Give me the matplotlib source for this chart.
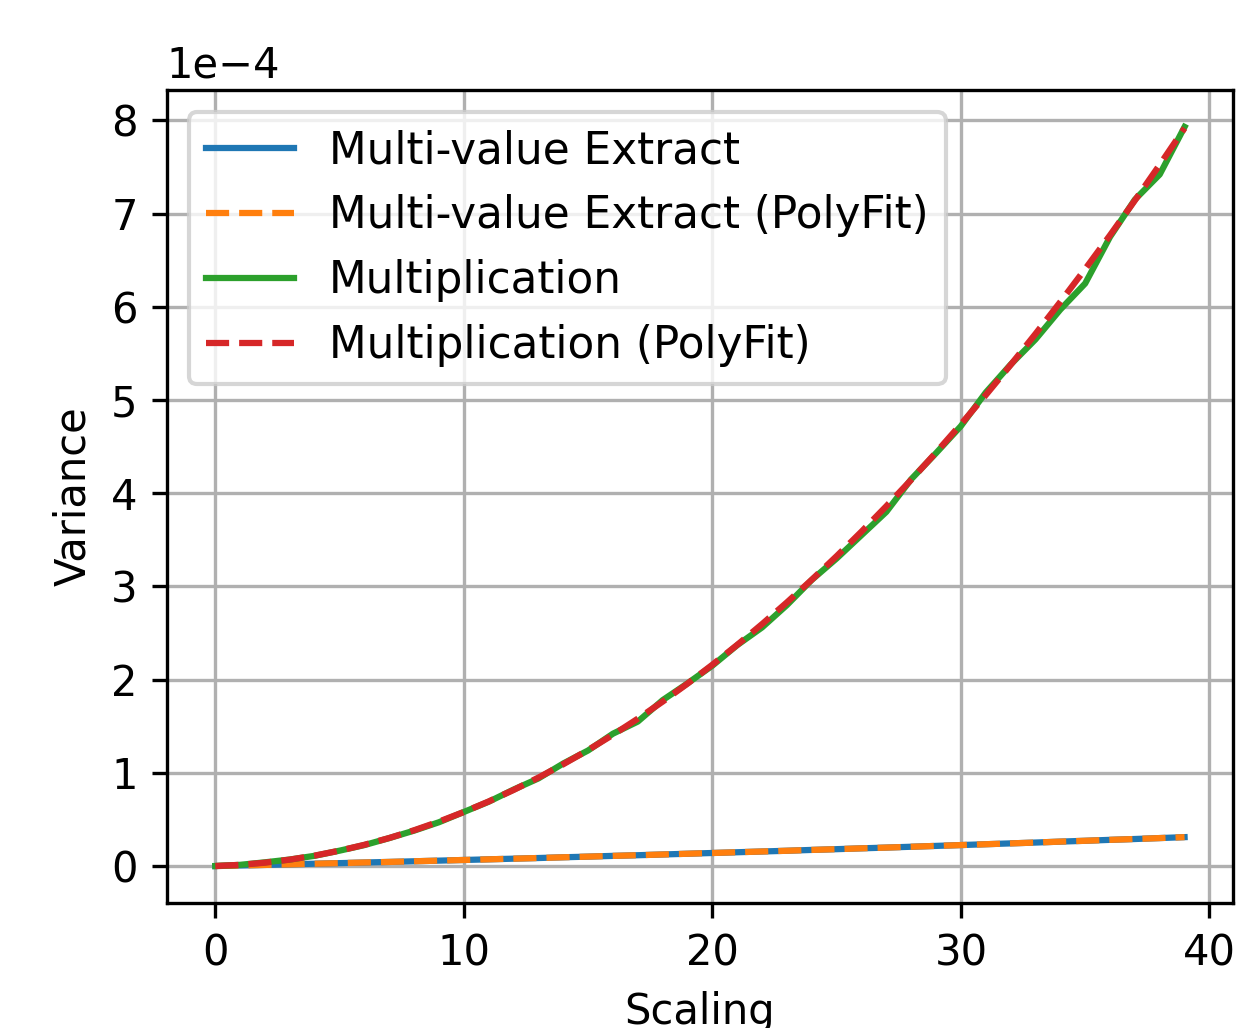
import numpy as np
import matplotlib
matplotlib.use("Agg")
import matplotlib.pyplot as plt

scaling = list(range(40))

# values in units of 1e-4
extract = [0.0, 0.006, 0.012, 0.018, 0.025, 0.031, 0.038, 0.044, 0.051, 0.058,
           0.065, 0.072, 0.079, 0.086, 0.094, 0.101, 0.109, 0.116, 0.124, 0.132,
           0.140, 0.148, 0.156, 0.164, 0.173, 0.181, 0.190, 0.198, 0.207, 0.216,
           0.225, 0.234, 0.243, 0.252, 0.262, 0.271, 0.281, 0.290, 0.300, 0.310]
extract_fit = [0.0, 0.006, 0.012, 0.018, 0.025, 0.031, 0.038, 0.044, 0.051, 0.058,
               0.065, 0.072, 0.079, 0.086, 0.094, 0.101, 0.109, 0.116, 0.124, 0.132,
               0.140, 0.148, 0.156, 0.164, 0.173, 0.181, 0.190, 0.198, 0.207, 0.216,
               0.225, 0.234, 0.243, 0.252, 0.262, 0.271, 0.281, 0.290, 0.300, 0.310]
mult = [0.0, 0.013, 0.04, 0.07, 0.11, 0.165, 0.225, 0.30, 0.38, 0.47,
        0.58, 0.69, 0.82, 0.94, 1.10, 1.24, 1.42, 1.55, 1.78, 1.96,
        2.15, 2.37, 2.56, 2.80, 3.07, 3.30, 3.55, 3.80, 4.15, 4.43,
        4.72, 5.08, 5.38, 5.65, 5.97, 6.25, 6.75, 7.15, 7.42, 7.93]
mult_fit = [0.0, 0.013, 0.036, 0.069, 0.112, 0.165, 0.228, 0.301, 0.384, 0.477,
            0.58, 0.693, 0.816, 0.949, 1.092, 1.245, 1.408, 1.581, 1.764, 1.957,
            2.16, 2.373, 2.596, 2.829, 3.072, 3.325, 3.588, 3.861, 4.144, 4.437,
            4.74, 5.053, 5.376, 5.709, 6.052, 6.405, 6.768, 7.141, 7.524, 7.917]

scale = 1e-4

fig = plt.figure(figsize=(1236/300, 1028/300), dpi=300)
ax = fig.add_axes([0.135, 0.1216, 0.9976 - 0.135, 0.9125 - 0.1216])
ax.plot(scaling, np.array(extract) * scale, color="#1f77b4", label="Multi-value Extract")
ax.plot(scaling, np.array(extract_fit) * scale, color="#ff7f0e", linestyle="--", label="Multi-value Extract (PolyFit)")
ax.plot(scaling, np.array(mult) * scale, color="#2ca02c", label="Multiplication")
ax.plot(scaling, np.array(mult_fit) * scale, color="#d62728", linestyle="--", label="Multiplication (PolyFit)")
ax.ticklabel_format(axis="y", style="sci", scilimits=(0, 0))
ax.set_xlabel("Scaling")
ax.set_ylabel("Variance")
ax.grid(True)
ax.legend(loc="upper left", fontsize=10.5)
fig.savefig("out.png", dpi=300)
